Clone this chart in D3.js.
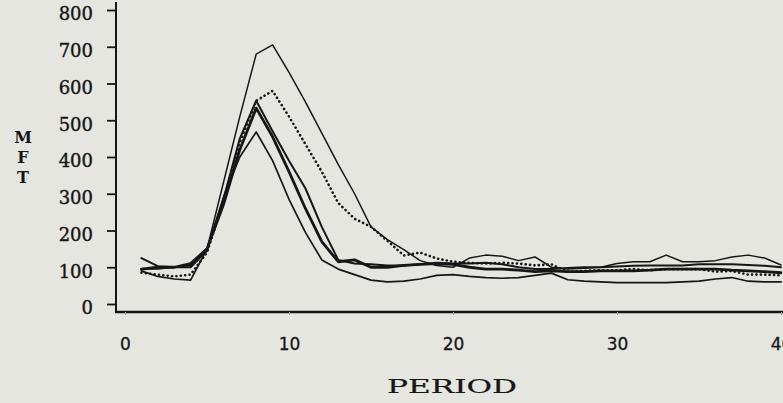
<!DOCTYPE html>
<html>
<head>
<meta charset="utf-8">
<script src="https://cdn.jsdelivr.net/npm/d3@7"></script>
<style>
  html, body { margin: 0; padding: 0; background: #e5e6e0; }
  svg { display: block; }
</style>
</head>
<body>
<div id="chart"></div>
<script>
// periods along the x axis
const periods = [1, 2, 3, 4, 5, 6, 7, 8, 9, 10,
  11, 12, 13, 14, 15, 16, 17, 18, 19, 20,
  21, 22, 23, 24, 25, 26, 27, 28, 29, 30,
  31, 32, 33, 34, 35, 36, 37, 38, 39, 40]

// MFT per period, one array per run
const runA = [95, 95, 100, 105, 150, 330, 510, 680, 705, 630,
  550, 465, 380, 300, 210, 175, 148, 118, 105, 100,
  125, 133, 130, 118, 128, 100, 95, 97, 100, 110,
  115, 115, 133, 115, 115, 118, 128, 133, 125, 106]
const runB = [85, 80, 75, 80, 140, 280, 440, 553, 580, 510,
  435, 360, 275, 232, 210, 172, 132, 140, 124, 115,
  112, 110, 112, 110, 105, 108, 88, 90, 92, 92,
  95, 92, 95, 95, 95, 88, 90, 80, 80, 78]
const runC = [95, 100, 100, 110, 150, 270, 420, 533, 455, 360,
  260, 170, 115, 120, 100, 100, 105, 108, 110, 108,
  100, 95, 95, 92, 88, 90, 88, 88, 90, 90,
  90, 92, 95, 95, 95, 95, 92, 90, 88, 85]
const runD = [125, 103, 100, 100, 145, 285, 450, 553, 470, 390,
  315, 210, 120, 110, 108, 105, 105, 108, 112, 110,
  110, 112, 108, 100, 95, 95, 98, 100, 100, 102,
  104, 105, 105, 105, 108, 108, 108, 106, 104, 100]
const runE = [90, 75, 68, 65, 150, 290, 400, 468, 390, 285,
  195, 120, 95, 80, 65, 60, 62, 68, 78, 80,
  75, 72, 70, 72, 78, 84, 66, 62, 60, 58,
  58, 58, 58, 60, 62, 68, 72, 62, 60, 60]

const xTicks = [0, 10, 20, 30, 40]
const yTicks = [0, 100, 200, 300, 400, 500, 600, 700, 800]
const yLabelLetters = ["M", "F", "T"]
const xLabel = "PERIOD"

const ink = "#161616"
const width = 783
const height = 403

const series = [
  { values: runC, width: 2.8, dash: null },
  { values: runD, width: 2.0, dash: null },
  { values: runE, width: 1.7, dash: null },
  { values: runA, width: 1.5, dash: null },
  { values: runB, width: 2.6, dash: "0.1,4.3" }
]

const svg = d3.select("#chart")
  .append("svg")
  .attr("width", width)
  .attr("height", height)

svg.append("rect")
  .attr("width", width)
  .attr("height", height)
  .attr("fill", "#e5e6e0")

const x = d3.scaleLinear().domain([0, 40]).range([125, 781])
const y = d3.scaleLinear().domain([0, 800]).range([304, 10])

const axisX = 116
const axisY = 312

// frame lines
svg.append("line")
  .attr("x1", axisX).attr("x2", axisX)
  .attr("y1", 2).attr("y2", axisY)
  .attr("stroke", ink).attr("stroke-width", 2)
svg.append("line")
  .attr("x1", axisX - 1).attr("x2", width)
  .attr("y1", axisY).attr("y2", axisY)
  .attr("stroke", ink).attr("stroke-width", 2.4)

// y axis
const gy = svg.append("g")
  .attr("transform", `translate(${axisX},0)`)
  .call(d3.axisLeft(y).tickValues(yTicks).tickSize(9).tickPadding(14))
gy.select(".domain").remove()
gy.selectAll(".tick line").attr("stroke", ink).attr("stroke-width", 1.8)
gy.selectAll(".tick text")
  .attr("fill", ink)
  .attr("stroke", ink)
  .attr("stroke-width", 0.4)
  .attr("dy", "0.55em")
  .style("font-family", "'DejaVu Serif', serif")
  .style("font-size", "18px")

// x axis
const gx = svg.append("g")
  .attr("transform", `translate(0,${axisY})`)
  .call(d3.axisBottom(x).tickValues(xTicks).tickSize(3).tickPadding(23))
gx.select(".domain").remove()
gx.selectAll(".tick line").attr("stroke", "#999").attr("stroke-width", 1)
gx.selectAll(".tick text")
  .attr("fill", ink)
  .attr("stroke", ink)
  .attr("stroke-width", 0.3)
  .style("font-family", "'DejaVu Sans', sans-serif")
  .style("font-size", "17px")

// axis titles
svg.append("text")
  .attr("x", 452)
  .attr("y", 393)
  .attr("text-anchor", "middle")
  .attr("textLength", 130)
  .attr("lengthAdjust", "spacingAndGlyphs")
  .attr("fill", ink)
  .attr("stroke", ink)
  .attr("stroke-width", 0.2)
  .style("font-family", "'DejaVu Serif', serif")
  .style("font-size", "18px")
  .text(xLabel)

svg.selectAll("text.ylab")
  .data(yLabelLetters)
  .enter()
    .append("text")
    .attr("class", "ylab")
    .attr("x", 23)
    .attr("y", (d, i) => 143 + i * 20)
    .attr("text-anchor", "middle")
    .attr("fill", ink)
    .style("font-family", "'DejaVu Serif', serif")
    .style("font-size", "16px")
    .style("font-weight", "bold")
    .text(d => d)

// runs
const line = d3.line()
  .x((d, i) => x(periods[i]))
  .y(d => y(d))

svg.selectAll("path.run")
  .data(series)
  .enter()
    .append("path")
    .attr("class", "run")
    .attr("d", d => line(d.values))
    .attr("fill", "none")
    .attr("stroke", ink)
    .attr("stroke-width", d => d.width)
    .attr("stroke-linejoin", "round")
    .attr("stroke-linecap", "round")
    .attr("stroke-dasharray", d => d.dash)
</script>
</body>
</html>
